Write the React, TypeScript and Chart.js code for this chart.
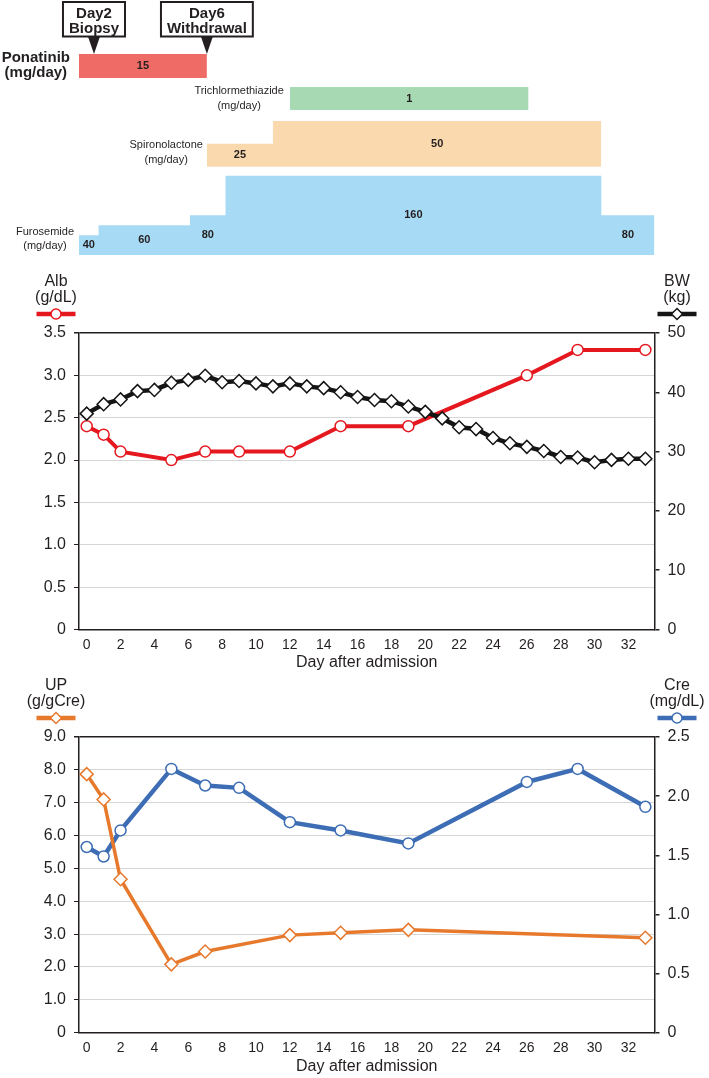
import React, { useEffect, useRef } from 'react';
import { Chart, registerables } from 'chart.js';

Chart.register(...registerables);

const FONT = "'Liberation Sans', Arial, Helvetica, sans-serif";
const INK = '#231f20';
Chart.defaults.font.family = FONT;
Chart.defaults.color = INK;

// ---------------- Data ----------------
const dayTicks = [0, 2, 4, 6, 8, 10, 12, 14, 16, 18, 20, 22, 24, 26, 28, 30, 32];
const DAY_MIN = -0.455;
const DAY_MAX = 33.54;

const albTicks = [0, 0.5, 1, 1.5, 2, 2.5, 3, 3.5];
const bwTicks = [0, 10, 20, 30, 40, 50];
const upTicks = [0, 1, 2, 3, 4, 5, 6, 7, 8, 9];
const creTicks = [0, 0.5, 1, 1.5, 2, 2.5];

const albDays = [0, 1, 2, 5, 7, 9, 12, 15, 19, 26, 29, 33];
const albValues = [2.4, 2.3, 2.1, 2.0, 2.1, 2.1, 2.1, 2.4, 2.4, 3.0, 3.3, 3.3];

const bwDays = [0, 1, 2, 3, 4, 5, 6, 7, 8, 9, 10, 11, 12, 13, 14, 15, 16, 17, 18, 19, 20, 21, 22, 23, 24, 25, 26, 27, 28, 29, 30, 31, 32, 33];
const bwValues = [36.4, 38.0, 38.8, 40.2, 40.4, 41.6, 42.1, 42.8, 41.7, 41.9, 41.5, 41.0, 41.5, 41.0, 40.7, 40.0, 39.2, 38.7, 38.5, 37.6, 36.7, 35.6, 34.1, 33.8, 32.3, 31.4, 30.8, 30.1, 29.1, 29.0, 28.2, 28.6, 28.8, 28.8];

const upDays = [0, 1, 2, 5, 7, 12, 15, 19, 33];
const upValues = [7.87, 7.1, 4.67, 2.08, 2.47, 2.97, 3.04, 3.13, 2.89];

const creDays = [0, 1, 2, 5, 7, 9, 12, 15, 19, 26, 29, 33];
const creValues = [1.57, 1.49, 1.71, 2.23, 2.09, 2.07, 1.78, 1.71, 1.60, 2.12, 2.23, 1.91];

// Drug timeline (segment start days, doses, end day)
const ponatinibStarts = [-0.455];
const ponatinibDoses = [15];
const ponatinibEnd = 7.1;
const trichlorStarts = [12];
const trichlorDoses = [1];
const trichlorEnd = 26.1;
const spiroStarts = [7.1, 11];
const spiroDoses = [25, 50];
const spiroEnd = 30.4;
const furoStarts = [-0.455, 0.7, 6.1, 8.2, 30.4];
const furoDoses = [40, 60, 80, 160, 80];
const furoEnd = 33.54;

const eventDays = [0.43, 7.1];
const eventLabels = [['Day2', 'Biopsy'], ['Day6', 'Withdrawal']];

// ---------------- Colors ----------------
const RED = '#E5171F';
const BLACK = '#151515';
const ORANGE = '#E7792D';
const BLUE = '#3D6DB4';

const drugRows = [
  { name: ['Ponatinib', '(mg/day)'], nameFont: `bold 15px ${FONT}`, lineGap: 14.5, gap: 9, nameDy: 12.5, starts: ponatinibStarts, doses: ponatinibDoses, end: ponatinibEnd, color: '#EE6B66', base: 78, unit: 24 / 15 },
  { name: ['Trichlormethiazide', '(mg/day)'], nameFont: `11px ${FONT}`, lineGap: 15, gap: 6, nameDy: 11.5, starts: trichlorStarts, doses: trichlorDoses, end: trichlorEnd, color: '#A7D9B2', base: 110, unit: 23 },
  { name: ['Spironolactone', '(mg/day)'], nameFont: `11px ${FONT}`, lineGap: 15, gap: 4, nameDy: 14, starts: spiroStarts, doses: spiroDoses, end: spiroEnd, color: '#FAD9AE', base: 166.7, unit: 45.7 / 50 },
  { name: ['Furosemide', '(mg/day)'], nameFont: `11px ${FONT}`, lineGap: 14, gap: 5, nameDy: 16, starts: furoStarts, doses: furoDoses, end: furoEnd, color: '#A7DAF4', base: 255, unit: 79.3 / 160 },
];

function makeTop(canvas: HTMLCanvasElement) {
  const datasets = drugRows.map((r) => {
    const pts = r.starts.map((s, i) => ({ x: s, y: r.base - r.doses[i] * r.unit }));
    pts.push({ x: r.end, y: r.base - r.doses[r.doses.length - 1] * r.unit });
    return {
      type: 'line' as const,
      data: pts,
      stepped: true,
      fill: { value: r.base },
      backgroundColor: r.color,
      borderColor: 'rgba(0,0,0,0)',
      borderWidth: 0,
      pointRadius: 0,
    };
  });
  const plugin = {
    id: 'timelineText',
    afterDraw(chart: any) {
      const ctx = chart.ctx as CanvasRenderingContext2D;
      const xs = chart.scales.x;
      const ys = chart.scales.y;
      ctx.save();
      ctx.textAlign = 'center';
      ctx.textBaseline = 'middle';
      ctx.fillStyle = INK;
      drugRows.forEach((r) => {
        ctx.font = `bold 11px ${FONT}`;
        r.starts.forEach((s, i) => {
          const e = i + 1 < r.starts.length ? r.starts[i + 1] : r.end;
          const cx = (xs.getPixelForValue(s) + xs.getPixelForValue(e)) / 2;
          const cy = ys.getPixelForValue(r.base - (r.doses[i] * r.unit) / 2);
          ctx.fillText(String(r.doses[i]), cx, cy);
        });
        ctx.font = r.nameFont;
        const w = Math.max(...r.name.map((t) => ctx.measureText(t).width));
        const cx = xs.getPixelForValue(r.starts[0]) - r.gap - w / 2;
        const cy = ys.getPixelForValue(r.base) - r.nameDy;
        r.name.forEach((t, i) => ctx.fillText(t, cx, cy + (i - (r.name.length - 1) / 2) * r.lineGap));
      });
      ctx.font = `bold 15px ${FONT}`;
      const ponTop = ys.getPixelForValue(drugRows[0].base - drugRows[0].doses[0] * drugRows[0].unit);
      eventDays.forEach((d, i) => {
        const x = xs.getPixelForValue(d);
        const lines = eventLabels[i];
        const w = Math.max(...lines.map((t) => ctx.measureText(t).width)) + 12;
        const top = 2;
        const bottom = 36.5;
        ctx.fillStyle = '#fff';
        ctx.fillRect(x - w / 2, top, w, bottom - top);
        ctx.strokeStyle = INK;
        ctx.lineWidth = 2;
        ctx.strokeRect(x - w / 2, top, w, bottom - top);
        ctx.beginPath();
        ctx.moveTo(x - 6, bottom);
        ctx.lineTo(x + 6, bottom);
        ctx.lineTo(x, ponTop);
        ctx.closePath();
        ctx.fillStyle = INK;
        ctx.fill();
        ctx.fillText(lines[0], x, 13.5);
        ctx.fillText(lines[1], x, 28.5);
      });
      ctx.restore();
    },
  };
  return new Chart(canvas, {
    type: 'line',
    data: { datasets: datasets as any },
    options: {
      animation: false,
      responsive: false,
      events: [],
      layout: { padding: { left: 79, right: 54.5, top: 0, bottom: 0 } },
      scales: {
        x: { type: 'linear', display: false, min: DAY_MIN, max: DAY_MAX },
        y: { type: 'linear', display: false, min: 0, max: 265, reverse: true },
      },
      plugins: { legend: { display: false }, tooltip: { enabled: false } },
    },
    plugins: [plugin],
  });
}

type Swatch = { color: string; style: 'circle' | 'diamond' };

function drawSwatch(ctx: CanvasRenderingContext2D, x: number, y: number, s: Swatch) {
  ctx.save();
  ctx.strokeStyle = s.color;
  ctx.lineWidth = 4.5;
  ctx.beginPath();
  ctx.moveTo(x - 19.5, y);
  ctx.lineTo(x + 19.5, y);
  ctx.stroke();
  ctx.beginPath();
  if (s.style === 'circle') {
    ctx.arc(x, y, 5, 0, Math.PI * 2);
  } else {
    ctx.moveTo(x - 5.5, y);
    ctx.lineTo(x, y - 5.5);
    ctx.lineTo(x + 5.5, y);
    ctx.lineTo(x, y + 5.5);
    ctx.closePath();
  }
  ctx.fillStyle = '#fff';
  ctx.fill();
  ctx.lineWidth = 1.5;
  ctx.stroke();
  ctx.restore();
}

function makeDual(
  canvas: HTMLCanvasElement,
  o: {
    padTop: number;
    axisH: number;
    leftTicks: number[];
    rightTicks: number[];
    leftFmt: (v: number) => string;
    rightFmt: (v: number) => string;
    leftTitle: string[];
    rightTitle: string[];
    leftLegend: Swatch;
    rightLegend: Swatch;
    datasets: any[];
  }
) {
  const leftMax = o.leftTicks[o.leftTicks.length - 1];
  const rightMax = o.rightTicks[o.rightTicks.length - 1];
  const plugin = {
    id: 'decor',
    afterDraw(chart: any) {
      const ctx = chart.ctx as CanvasRenderingContext2D;
      const a = chart.chartArea;
      ctx.save();
      ctx.fillStyle = INK;
      ctx.textAlign = 'center';
      ctx.textBaseline = 'middle';
      ctx.font = `16px ${FONT}`;
      const lx = a.left - 23;
      const rx = a.right + 22.5;
      o.leftTitle.forEach((t, i) => ctx.fillText(t, lx, a.top - 51.5 + i * 16));
      o.rightTitle.forEach((t, i) => ctx.fillText(t, rx, a.top - 51.5 + i * 16));
      ctx.fillText('Day after admission', (a.left + a.right) / 2, a.bottom + 33.5);
      drawSwatch(ctx, lx, a.top - 19, o.leftLegend);
      drawSwatch(ctx, rx, a.top - 19, o.rightLegend);
      ctx.restore();
    },
  };
  return new Chart(canvas, {
    type: 'line',
    data: { datasets: o.datasets },
    options: {
      animation: false,
      responsive: false,
      events: [],
      layout: { padding: { left: 0, right: 0, top: o.padTop, bottom: 0 } },
      scales: {
        x: {
          type: 'linear',
          min: DAY_MIN,
          max: DAY_MAX,
          afterBuildTicks: (s: any) => {
            s.ticks = dayTicks.map((v) => ({ value: v }));
          },
          afterFit: (s: any) => {
            s.height = o.axisH;
          },
          ticks: { font: { size: 14 }, color: INK, padding: 7, maxRotation: 0, autoSkip: false, callback: (v: any) => String(v) },
          grid: { display: false, drawTicks: false },
          border: { display: true, color: INK, width: 1.5 },
        },
        yL: {
          type: 'linear',
          position: 'left',
          min: 0,
          max: leftMax,
          afterBuildTicks: (s: any) => {
            s.ticks = o.leftTicks.map((v) => ({ value: v }));
          },
          afterFit: (s: any) => {
            s.width = 79;
          },
          ticks: { font: { size: 16 }, color: INK, padding: 8, callback: (v: any) => o.leftFmt(Number(v)) },
          grid: {
            color: (c: any) => (c.tick && (c.tick.value === leftMax || c.tick.value === 0) ? INK : '#d6d6d6'),
            lineWidth: (c: any) => (c.tick && c.tick.value === leftMax ? 1.5 : 1),
            tickColor: INK,
            tickLength: 5,
            drawTicks: true,
          },
          border: { display: true, color: INK, width: 1.5 },
        },
        yR: {
          type: 'linear',
          position: 'right',
          min: 0,
          max: rightMax,
          afterBuildTicks: (s: any) => {
            s.ticks = o.rightTicks.map((v) => ({ value: v }));
          },
          afterFit: (s: any) => {
            s.width = 54.5;
          },
          ticks: { font: { size: 16 }, color: INK, padding: 8, callback: (v: any) => o.rightFmt(Number(v)) },
          grid: { drawOnChartArea: false, color: INK, tickColor: INK, tickLength: 5, drawTicks: true, lineWidth: 1.5 },
          border: { display: true, color: INK, width: 1.5 },
        },
      },
      plugins: { legend: { display: false }, tooltip: { enabled: false } },
    },
    plugins: [plugin],
  });
}

const fmt1 = (v: number) => (v === 0 ? '0' : v.toFixed(1));
const fmt0 = (v: number) => String(v);

export default function App() {
  const topRef = useRef<HTMLCanvasElement>(null);
  const midRef = useRef<HTMLCanvasElement>(null);
  const botRef = useRef<HTMLCanvasElement>(null);

  useEffect(() => {
    const charts: Chart[] = [];
    charts.push(makeTop(topRef.current!));
    charts.push(
      makeDual(midRef.current!, {
        padTop: 68,
        axisH: 45.5,
        leftTicks: albTicks,
        rightTicks: bwTicks,
        leftFmt: fmt1,
        rightFmt: fmt0,
        leftTitle: ['Alb', '(g/dL)'],
        rightTitle: ['BW', '(kg)'],
        leftLegend: { color: RED, style: 'circle' },
        rightLegend: { color: BLACK, style: 'diamond' },
        datasets: [
          {
            label: 'Alb',
            data: albDays.map((d, i) => ({ x: d, y: albValues[i] })),
            yAxisID: 'yL',
            borderColor: RED,
            borderWidth: 4,
            pointStyle: 'circle',
            pointRadius: 5.5,
            pointBackgroundColor: '#fff',
            pointBorderColor: RED,
            pointBorderWidth: 1.5,
            order: 1,
          },
          {
            label: 'BW',
            data: bwDays.map((d, i) => ({ x: d, y: bwValues[i] })),
            yAxisID: 'yR',
            borderColor: BLACK,
            borderWidth: 4.5,
            pointStyle: 'rectRot',
            pointRadius: 6.5,
            pointBackgroundColor: '#fff',
            pointBorderColor: BLACK,
            pointBorderWidth: 1.5,
            order: 0,
          },
        ],
      })
    );
    charts.push(
      makeDual(botRef.current!, {
        padTop: 62,
        axisH: 45.3,
        leftTicks: upTicks,
        rightTicks: creTicks,
        leftFmt: fmt1,
        rightFmt: fmt1,
        leftTitle: ['UP', '(g/gCre)'],
        rightTitle: ['Cre', '(mg/dL)'],
        leftLegend: { color: ORANGE, style: 'diamond' },
        rightLegend: { color: BLUE, style: 'circle' },
        datasets: [
          {
            label: 'UP',
            data: upDays.map((d, i) => ({ x: d, y: upValues[i] })),
            yAxisID: 'yL',
            borderColor: ORANGE,
            borderWidth: 3.5,
            pointStyle: 'rectRot',
            pointRadius: 6.5,
            pointBackgroundColor: '#fff',
            pointBorderColor: ORANGE,
            pointBorderWidth: 1.5,
            order: 0,
          },
          {
            label: 'Cre',
            data: creDays.map((d, i) => ({ x: d, y: creValues[i] })),
            yAxisID: 'yR',
            borderColor: BLUE,
            borderWidth: 4.5,
            pointStyle: 'circle',
            pointRadius: 5.5,
            pointBackgroundColor: '#fff',
            pointBorderColor: BLUE,
            pointBorderWidth: 1.5,
            order: 1,
          },
        ],
      })
    );
    return () => charts.forEach((c) => c.destroy());
  }, []);

  return (
    <div style={{ position: 'absolute', left: 0, top: 0, width: 709, height: 1078, background: '#fff' }}>
      <canvas ref={topRef} width={709} height={265} style={{ position: 'absolute', left: 0, top: 0, width: 709, height: 265 }} />
      <canvas ref={midRef} width={709} height={410} style={{ position: 'absolute', left: 0, top: 265, width: 709, height: 410 }} />
      <canvas ref={botRef} width={709} height={403} style={{ position: 'absolute', left: 0, top: 675, width: 709, height: 403 }} />
    </div>
  );
}
